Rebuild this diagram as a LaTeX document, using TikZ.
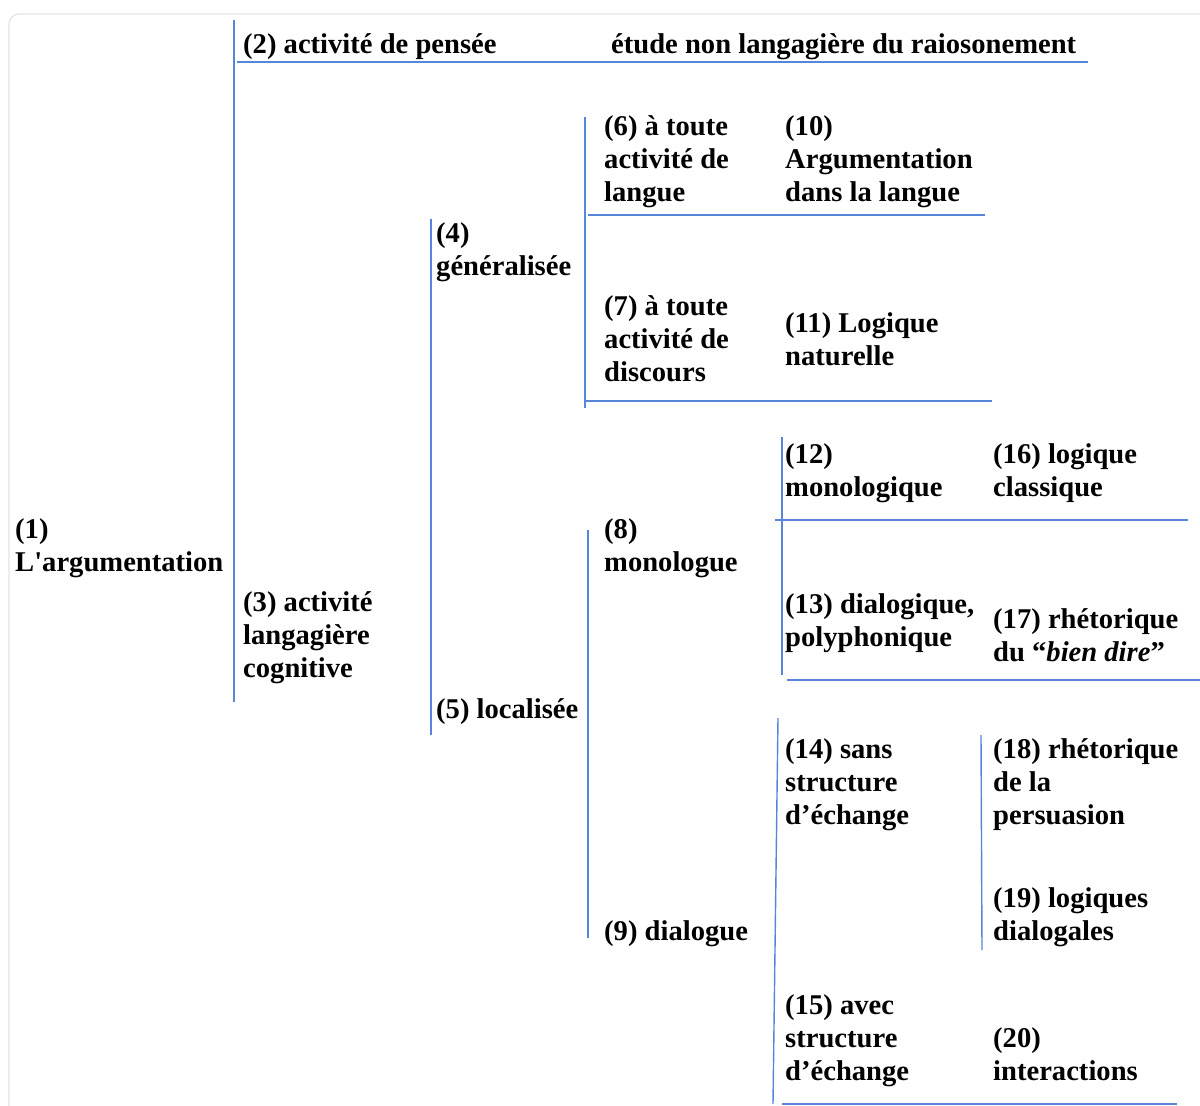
\documentclass[tikz,border=0pt]{standalone}
\usepackage{fontspec}
\setmainfont{Liberation Serif}[Ligatures=TeXOff,BoldFont={Liberation Serif Bold},BoldItalicFont={Liberation Serif Bold Italic}]
\definecolor{rule}{RGB}{88,133,220}
\definecolor{frame}{RGB}{228,228,228}
\begin{document}
\begin{tikzpicture}[x=1pt,y=-1pt,
  lbl/.style={anchor=base west,inner sep=0pt,align=left,
    font=\fontsize{28.6}{33}\selectfont\bfseries},
  rl/.style={draw=rule,line width=1.4pt}]
\useasboundingbox (0,0) rectangle (1200,1106);
\fill[white] (0,0) rectangle (1200,1106);
\draw[frame,line width=1.2pt,rounded corners=10pt] (9,1106) -- (9,14) -- (1200,14);
% labels (anchor = baseline of last line)
\node[lbl] (n1) at (15,571) {(1)\\L'argumentation};
\node[lbl] (n2) at (243,53) {(2) activité de pensée};
\node[lbl] (et) at (611,53) {étude non langagière du raiosonement};
\node[lbl] (n3) at (243,677) {(3) activité\\langagière\\cognitive};
\node[lbl] (n4) at (436,275) {(4)\\généralisée};
\node[lbl] (n5) at (436,718) {(5) localisée};
\node[lbl] (n6) at (604,201) {(6) à toute\\activité de\\langue};
\node[lbl] (n10) at (785,201) {(10)\\Argumentation\\dans la langue};
\node[lbl] (n7) at (604,381) {(7) à toute\\activité de\\discours};
\node[lbl] (n11) at (785,365) {(11) Logique\\naturelle};
\node[lbl] (n12) at (785,496) {(12)\\monologique};
\node[lbl] (n16) at (993,496) {(16) logique\\classique};
\node[lbl] (n8) at (604,571) {(8)\\monologue};
\node[lbl] (n13) at (785,646) {(13) dialogique,\\polyphonique};
\node[lbl] (n17) at (993,661) {(17) rhétorique\\du “\textit{bien dire}”};
\node[lbl] (n9) at (604,940) {(9) dialogue};
\node[lbl] (n14) at (785,824) {(14) sans\\structure\\d’échange};
\node[lbl] (n18) at (993,824) {(18) rhétorique\\de la\\persuasion};
\node[lbl] (n19) at (993,940) {(19) logiques\\dialogales};
\node[lbl] (n15) at (785,1080) {(15) avec\\structure\\d’échange};
\node[lbl] (n20) at (993,1080) {(20)\\interactions};
% rules
\draw[rl] (234,20) -- (234,702);
\draw[rl] (237,62) -- (1088,62);
\draw[rl] (431,219) -- (431,735);
\draw[rl] (585,117) -- (585,408);
\draw[rl] (588,215) -- (985,215);
\draw[rl] (586,401) -- (992,401);
\draw[rl] (588,530) -- (588,938);
\draw[rl] (782,437) -- (782,675);
\draw[rl] (775,520) -- (1188,520);
\draw[rl] (787,680) -- (1200,680);
\draw[rl] (778,718) -- (773,1104);
\draw[rl] (981,735) -- (982,950);
\draw[rl] (782,1104) -- (1177,1104);
\end{tikzpicture}
\end{document}
